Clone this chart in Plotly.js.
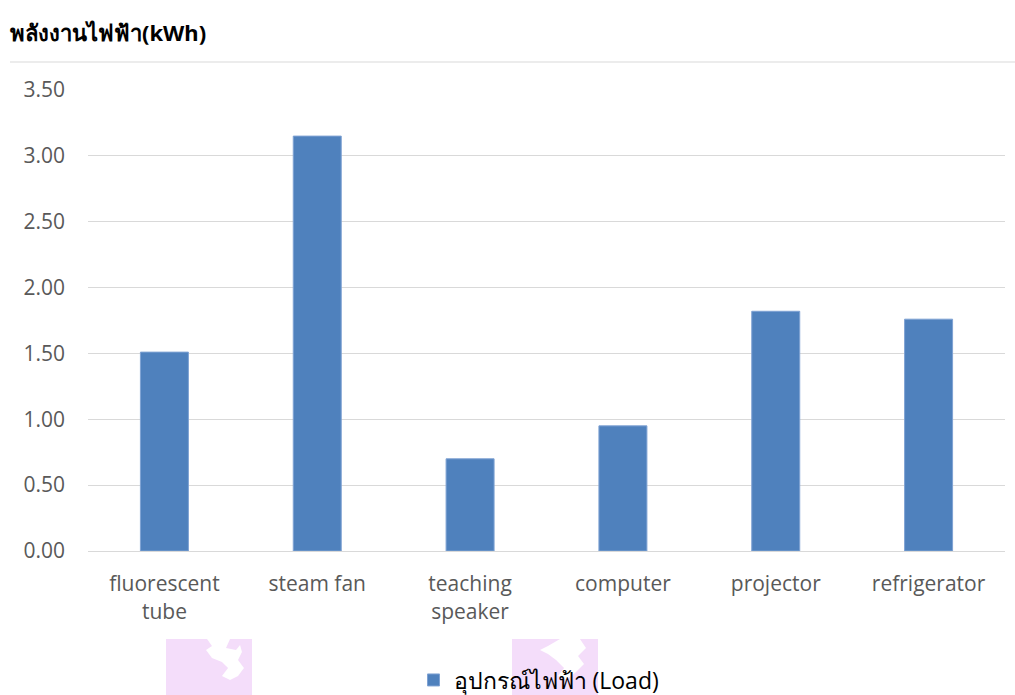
<!DOCTYPE html>
<html>
<head>
<meta charset="utf-8">
<script src="https://cdn.plot.ly/plotly-3.0.1.min.js"></script>
<style>html,body{margin:0;padding:0;background:#fff;}#chart{width:1015px;height:695px;}</style>
</head>
<body>
<div id="chart"></div>
<script>
var categories = ["fluorescent<br>tube", "steam fan", "teaching<br>speaker", "computer", "projector", "refrigerator"];
var energyKWh = [1.51, 3.15, 0.70, 0.95, 1.82, 1.76];
var yTickValues = [0, 0.5, 1, 1.5, 2, 2.5, 3, 3.5];
var yTickLabels = ["0.00", "0.50", "1.00", "1.50", "2.00", "2.50", "3.00", "3.50"];
var seriesName = "อุปกรณ์ไฟฟ้า (Load)";
var chartTitle = "พลังงานไฟฟ้า(kWh)";

var W = 1015, H = 695, L = 88, R = 10, T = 90, B = 144;
var PW = W - L - R, PH = H - T - B;
function px(x){ return (x - L) / PW; }
function py(y){ return (H - B - y) / PH; }
function pathFrom(pts){
  return pts.map(function(p, i){ return (i ? 'L' : 'M') + px(p[0]).toFixed(4) + ',' + py(p[1]).toFixed(4); }).join(' ') + ' Z';
}

var pink = '#F4DDFA';
var shapes = [
  {type:'line', xref:'paper', yref:'paper', x0:px(10), x1:px(1015), y0:py(62), y1:py(62), line:{color:'#D9D9D9', width:1}},
  {type:'rect', xref:'paper', yref:'paper', x0:px(166), x1:px(252), y0:py(639), y1:py(700), fillcolor:pink, line:{width:0}},
  {type:'rect', xref:'paper', yref:'paper', x0:px(512), x1:px(598), y0:py(639), y1:py(700), fillcolor:pink, line:{width:0}},
  {type:'path', xref:'paper', yref:'paper', path:pathFrom([[207,639],[230,639],[226,648],[236,650],[240,645],[242,652],[238,660],[244,668],[238,676],[230,680],[222,676],[228,668],[222,662],[212,658],[206,650],[212,646]]), fillcolor:'#ffffff', line:{width:0}},
  {type:'path', xref:'paper', yref:'paper', path:pathFrom([[560,639],[580,639],[586,648],[578,656],[584,664],[576,672],[566,680],[558,676],[564,668],[556,660],[548,654],[540,650],[548,646]]), fillcolor:'#ffffff', line:{width:0}}
];

var trace = {
  type: 'bar',
  x: categories,
  y: energyKWh,
  name: seriesName,
  showlegend: true,
  marker: {color: '#4F81BD', line: {color: '#7FA2D3', width: 1}},
  hoverinfo: 'x+y'
};

var layout = {
  width: W, height: H,
  margin: {l: L, r: R, t: T, b: B, pad: 0, autoexpand: false},
  paper_bgcolor: '#ffffff', plot_bgcolor: '#ffffff',
  font: {family: 'Open Sans, Noto Sans, sans-serif', color: '#595959', size: 21},
  title: {text: '<b>' + chartTitle + '</b>', x: 10 / W, xanchor: 'left', xref: 'container', y: 1 - 33 / H, yanchor: 'middle', yref: 'container', font: {size: 22, color: '#000000', family: 'Noto Sans, Open Sans, sans-serif'}},
  bargap: 0.686,
  xaxis: {type: 'category', automargin: false, showgrid: false, zeroline: false, showline: true, linecolor: '#D9D9D9', linewidth: 1, ticks: '', ticklabelstandoff: 14, tickfont: {size: 21, color: '#595959'}, fixedrange: true},
  yaxis: {range: [0, 3.5], automargin: false, tickvals: yTickValues, ticktext: yTickLabels, showgrid: true, gridcolor: '#D9D9D9', gridwidth: 1, zeroline: false, showline: false, ticks: '', ticklabelstandoff: 22, tickfont: {size: 21, color: '#595959'}, fixedrange: true},
  legend: {orientation: 'h', x: px(539), xanchor: 'center', xref: 'paper', y: 1 - 680 / H, yref: 'container', yanchor: 'middle', font: {size: 23, color: '#000000'}, bgcolor: 'rgba(0,0,0,0)'},
  shapes: shapes
};

Plotly.newPlot('chart', [trace], layout, {displayModeBar: false, staticPlot: true});
</script>
</body>
</html>
